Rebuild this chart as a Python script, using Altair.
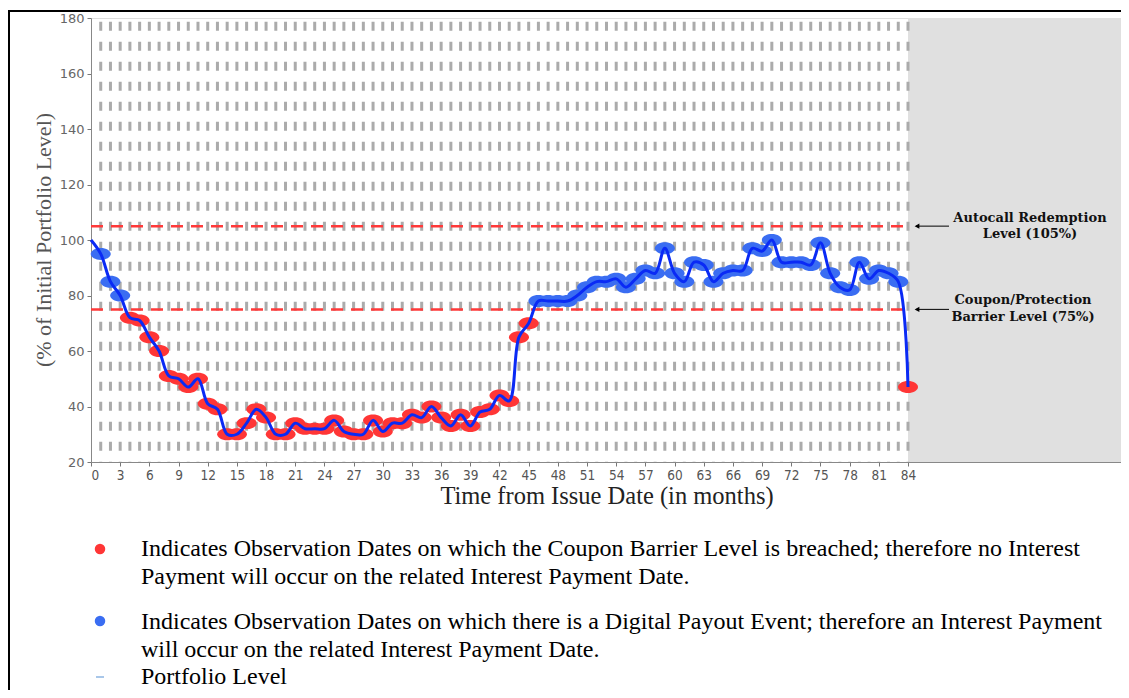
import altair as alt
import pandas as pd

# ---------------- data ----------------
months = list(range(0, 85))
levels = [100, 95, 85, 80, 72, 71, 65, 60, 51, 50, 47, 50, 41, 39, 30, 30, 34, 39, 36, 30, 30,
          34, 32, 32, 32, 35, 31, 30, 30, 35, 31, 34, 34, 37, 36, 40, 36, 33, 37, 33, 38, 39, 44, 42,
          65, 70, 78, 78, 78, 78, 80, 83, 85, 85, 86, 83, 86, 89, 88, 97, 88, 85, 92, 91, 85,
          88, 89, 89, 97, 96, 100, 92, 92, 92, 91, 99, 88, 83, 82, 92, 86, 89, 88, 85, 47]
assert len(levels) == len(months)

barrier_levels = [105, 75]
barrier_labels = ["Autocall Redemption\nLevel (105%)", "Coupon/Protection\nBarrier Level (75%)"]
coupon_barrier = 75
x_ticks = list(range(0, 85, 3))
y_ticks = list(range(20, 181, 20))
maturity = 84
x_max = 105.9

legend_red = ["Indicates Observation Dates on which the Coupon Barrier Level is breached; therefore no Interest",
              "Payment will occur on the related Interest Payment Date."]
legend_blue = ["Indicates Observation Dates on which there is a Digital Payout Event; therefore an Interest Payment",
               "will occur on the related Interest Payment Date."]
legend_line = "Portfolio Level"
x_title = "Time from Issue Date (in months)"
y_title = "(% of Initial Portfolio Level)"

# ---------------- frames ----------------
line_df = pd.DataFrame({"month": months, "level": levels})
obs_df = line_df[line_df.month >= 1].copy()
obs_df["status"] = ["breach" if v < coupon_barrier else "payout" for v in obs_df.level]
grid_df = pd.DataFrame({"month": months[1:], "top": 180, "bottom": 20})
shade_df = pd.DataFrame({"month": [maturity], "b": [x_max], "level": [180], "bottom": [20]})
barrier_df = pd.DataFrame({"level": barrier_levels, "month": 0, "x1": maturity, "label": barrier_labels})

W, H = 1030, 444
xs = alt.Scale(domain=[0, x_max], nice=False, zero=False)
ys = alt.Scale(domain=[20, 180], nice=False, zero=False)
xaxis = alt.Axis(values=x_ticks, title=None, grid=False,
                 labelFont="DejaVu Sans Condensed, Liberation Sans Narrow, sans-serif",
                 labelFontSize=13.5, labelColor="#555", tickColor="#777",
                 tickSize=4, domainColor="#888", labelPadding=2)
yaxis = alt.Axis(values=y_ticks, title=None, grid=False,
                 labelFont="DejaVu Sans", labelFontSize=13,
                 labelColor="#666", tickColor="#777", tickSize=4,
                 domainColor="#888", labelPadding=3)

def X(f):
    return alt.X(f, scale=xs, axis=xaxis, title=None)

def Y(f):
    return alt.Y(f, scale=ys, axis=yaxis, title=None)

SERIF = "Liberation Serif"
ELLIPSE = "M -1 0 A 1 0.6 0 1 0 1 0 A 1 0.6 0 1 0 -1 0 Z"

shade = alt.Chart(shade_df).mark_rect(color="#e0e0e0").encode(
    x=X("month:Q"), x2="b:Q", y=Y("level:Q"), y2="bottom:Q")

grid = alt.Chart(grid_df).mark_rule(color="#ababab", strokeWidth=3, strokeDash=[9, 11],
                                    strokeDashOffset=16.3).encode(
    x=X("month:Q"), y=Y("top:Q"), y2="bottom:Q")

barriers = alt.Chart(barrier_df).mark_rule(color="#ff3a3a", strokeWidth=2.5, strokeDash=[12, 8]).encode(
    x=X("month:Q"), x2="x1:Q", y=Y("level:Q"))

points = alt.Chart(obs_df).mark_point(shape=ELLIPSE, size=400, filled=True, opacity=1).encode(
    x=X("month:Q"), y=Y("level:Q"),
    color=alt.Color("status:N", legend=None,
                    scale=alt.Scale(domain=["breach", "payout"], range=["#ff3636", "#3a6df2"])),
)

line = alt.Chart(line_df).mark_line(color="#0a2af5", strokeWidth=3, interpolate="catmull-rom").encode(
    x=X("month:Q"), y=Y("level:Q"))

arrow_line = alt.Chart(barrier_df).mark_rule(color="black", strokeWidth=1).encode(
    x=alt.value(825), x2=alt.value(858), y=Y("level:Q"))
arrow_head = alt.Chart(barrier_df).mark_point(shape="triangle-left", filled=True, color="black",
                                              size=30, opacity=1).encode(
    x=alt.value(826), y=Y("level:Q"))

ann_kw = dict(font="DejaVu Serif", fontWeight="bold", fontSize=13, lineBreak="\n",
              align="center", baseline="middle", color="#111")
annot1 = alt.Chart(barrier_df.iloc[[0]]).mark_text(lineHeight=16, dy=-8, **ann_kw).encode(
    x=alt.value(939), y=Y("level:Q"), text="label:N")
annot2 = alt.Chart(barrier_df.iloc[[1]]).mark_text(lineHeight=17, dy=-9, **ann_kw).encode(
    x=alt.value(932), y=Y("level:Q"), text="label:N")

def text_layer(s, x, y, **kw):
    return alt.Chart(pd.DataFrame({"t": [s]})).mark_text(**kw).encode(
        x=alt.value(x), y=alt.value(y), text="t:N")

ytitle = text_layer(y_title, -47, 222, font=SERIF, fontSize=22, color="#555", angle=270,
                    align="center", baseline="middle")
xtitle = text_layer(x_title, 516, 479, font=SERIF, fontSize=24.5, color="#222",
                    align="center", baseline="middle")

leg_kw = dict(font=SERIF, fontSize=24, color="black", align="left", baseline="middle")
legend_layers = [
    text_layer(legend_red[0], 50, 531, **leg_kw),
    text_layer(legend_red[1], 50, 559, **leg_kw),
    text_layer(legend_blue[0], 50, 604, **leg_kw),
    text_layer(legend_blue[1], 50, 632, **leg_kw),
    text_layer(legend_line, 50, 659, **leg_kw),
]
sym_df = pd.DataFrame({"status": ["breach", "payout"]})
leg_red = alt.Chart(sym_df.iloc[[0]]).mark_point(shape="circle", filled=True, size=110, opacity=1,
                                                 color="#ff3636").encode(x=alt.value(9), y=alt.value(531))
leg_blue = alt.Chart(sym_df.iloc[[1]]).mark_point(shape="circle", filled=True, size=110, opacity=1,
                                                  color="#3a6df2").encode(x=alt.value(9), y=alt.value(603))
leg_dash = alt.Chart(sym_df.iloc[[0]]).mark_rule(color="#8db4e2", strokeWidth=1.5).encode(
    x=alt.value(5), x2=alt.value(13), y=alt.value(659))

border_top = alt.Chart(sym_df.iloc[[0]]).mark_rule(color="black", strokeWidth=2).encode(
    x=alt.value(-83), x2=alt.value(W), y=alt.value(-7))
border_left = alt.Chart(sym_df.iloc[[0]]).mark_rule(color="black", strokeWidth=2).encode(
    x=alt.value(-82), y=alt.value(-8), y2=alt.value(700))

chart = alt.layer(
    shade, grid, barriers, points, line, arrow_line, arrow_head, annot1, annot2,
    ytitle, xtitle, *legend_layers, leg_red, leg_blue, leg_dash, border_top, border_left,
).properties(
    width=W, height=H,
    autosize=alt.AutoSizeParams(type="none"),
    padding={"left": 83, "top": 10, "right": 0, "bottom": 228},
).configure_view(stroke="#999", strokeWidth=1).configure(background="white")

chart.save("out.html", embed_options={"renderer": "svg", "actions": False})
